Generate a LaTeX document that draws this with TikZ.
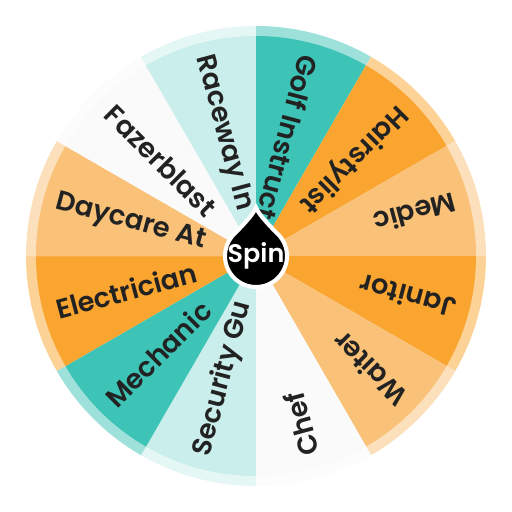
\documentclass[tikz,border=0pt]{standalone}
\usepackage{fontspec}
\setmainfont{Poppins}[BoldFont={Poppins SemiBold}]
\usepackage{tikz}
\usetikzlibrary{calc}

\definecolor{wteal}{HTML}{3DC4B7}
\definecolor{wlteal}{HTML}{CAEEEB}
\definecolor{worange}{HTML}{F9A530}
\definecolor{wlorange}{HTML}{F9C278}
\definecolor{wwhite}{HTML}{FAFAFA}
\definecolor{wtext}{HTML}{222222}

\tikzset{
    slicelabel/.style={anchor=west, inner sep=0pt, text=wtext, font=\fontsize{15.5}{18}\selectfont\bfseries},
    spinbutton/.style={fill=black, draw=white, line width=2.3pt}
}

\begin{document}
\begin{tikzpicture}
        \useasboundingbox (-5.12,-5.12) rectangle (5.12,5.12);
        \coordinate (O) at (0,0);

        % slices, clockwise from the top
        \foreach \a/\col/\lab [count=\n] in {90/wteal/Golf Instruct, 60/worange/Hairstylist,
            30/wlorange/Medic, 0/worange/Janitor, -30/wlorange/Waiter, -60/wwhite/Chef,
            -90/wlteal/Security Gu, -120/wteal/Mechanic, -150/worange/Electrician,
            -180/wlorange/Daycare At, -210/wwhite/Fazerblast, -240/wlteal/Raceway In}
        {
            \fill[\col!50!white] (O) -- (\a:4.6) arc[start angle=\a, end angle=\a-30, radius=4.6] -- cycle;
            \fill[\col] (O) -- (\a:4.4) arc[start angle=\a, end angle=\a-30, radius=4.4] -- cycle;
            \node[slicelabel, rotate=\a+165] (lab\n) at (\a-15:4.14) {\lab};
        }

        % spin button with pointer
        \filldraw[spinbutton] (130:0.62) .. controls (-0.22,0.66) and (-0.05,0.84) .. (0,0.97)
            .. controls (0.05,0.84) and (0.22,0.66) .. (50:0.62)
            arc[start angle=50, end angle=-230, radius=0.62] -- cycle;
        \node[text=white, font=\fontsize{14.5}{16}\selectfont\bfseries] (spin) at (0,0.01) {Spin};
    \end{tikzpicture}
\end{document}
